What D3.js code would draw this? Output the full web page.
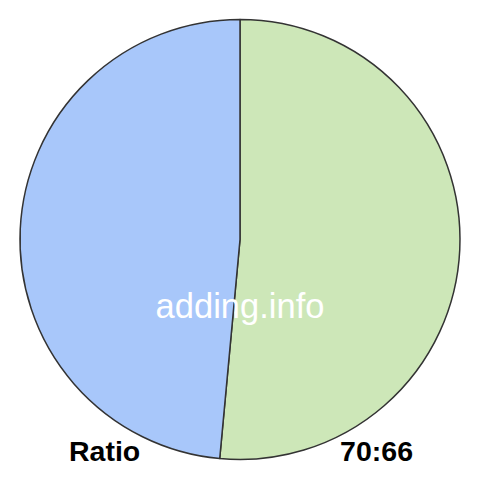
<!DOCTYPE html>
<html>
<head>
<meta charset="utf-8">
<script src="https://cdn.jsdelivr.net/npm/d3@7"></script>
<style>
  html, body { margin: 0; padding: 0; background: #fff; }
  svg { display: block; }
</style>
</head>
<body>
<svg id="chart" width="480" height="480"></svg>
<script>
// Data
const labels = ['A', 'B'];
const values = [70, 66];
const colors = ['#cde7b8', '#a8c7fa'];
const captionLeft = 'Ratio';
const captionRight = '70:66';
const watermark = 'adding.info';

const W = 480, H = 480;
const cx = 240, cy = 239.5, radius = 220;

const svg = d3.select('#chart');
const g = svg.append('g').attr('transform', `translate(${cx},${cy})`);

const pie = d3.pie().sort(null).value(d => d.value);
const arc = d3.arc().innerRadius(0).outerRadius(radius);

const data = labels.map((l, i) => ({ label: l, value: values[i], color: colors[i] }));

g.selectAll('path.slice')
  .data(pie(data))
  .join('path')
  .attr('class', 'slice')
  .attr('d', arc)
  .attr('fill', d => d.data.color)
  .attr('stroke', '#333')
  .attr('stroke-width', 1.5)
  .attr('stroke-linejoin', 'round');

svg.append('text')
  .attr('x', 240).attr('y', 318)
  .attr('text-anchor', 'middle')
  .attr('font-family', 'Liberation Sans, Arial, sans-serif')
  .attr('font-size', 34.5)
  .attr('fill', '#fff')
  .text(watermark);

svg.append('text')
  .attr('x', 69).attr('y', 461)
  .attr('font-family', 'Liberation Sans, Arial, sans-serif')
  .attr('font-weight', 'bold')
  .attr('font-size', 28.5)
  .attr('fill', '#000')
  .text(captionLeft);

svg.append('text')
  .attr('x', 413).attr('y', 461)
  .attr('text-anchor', 'end')
  .attr('font-family', 'Liberation Sans, Arial, sans-serif')
  .attr('font-weight', 'bold')
  .attr('font-size', 28.5)
  .attr('fill', '#000')
  .text(captionRight);
</script>
</body>
</html>
